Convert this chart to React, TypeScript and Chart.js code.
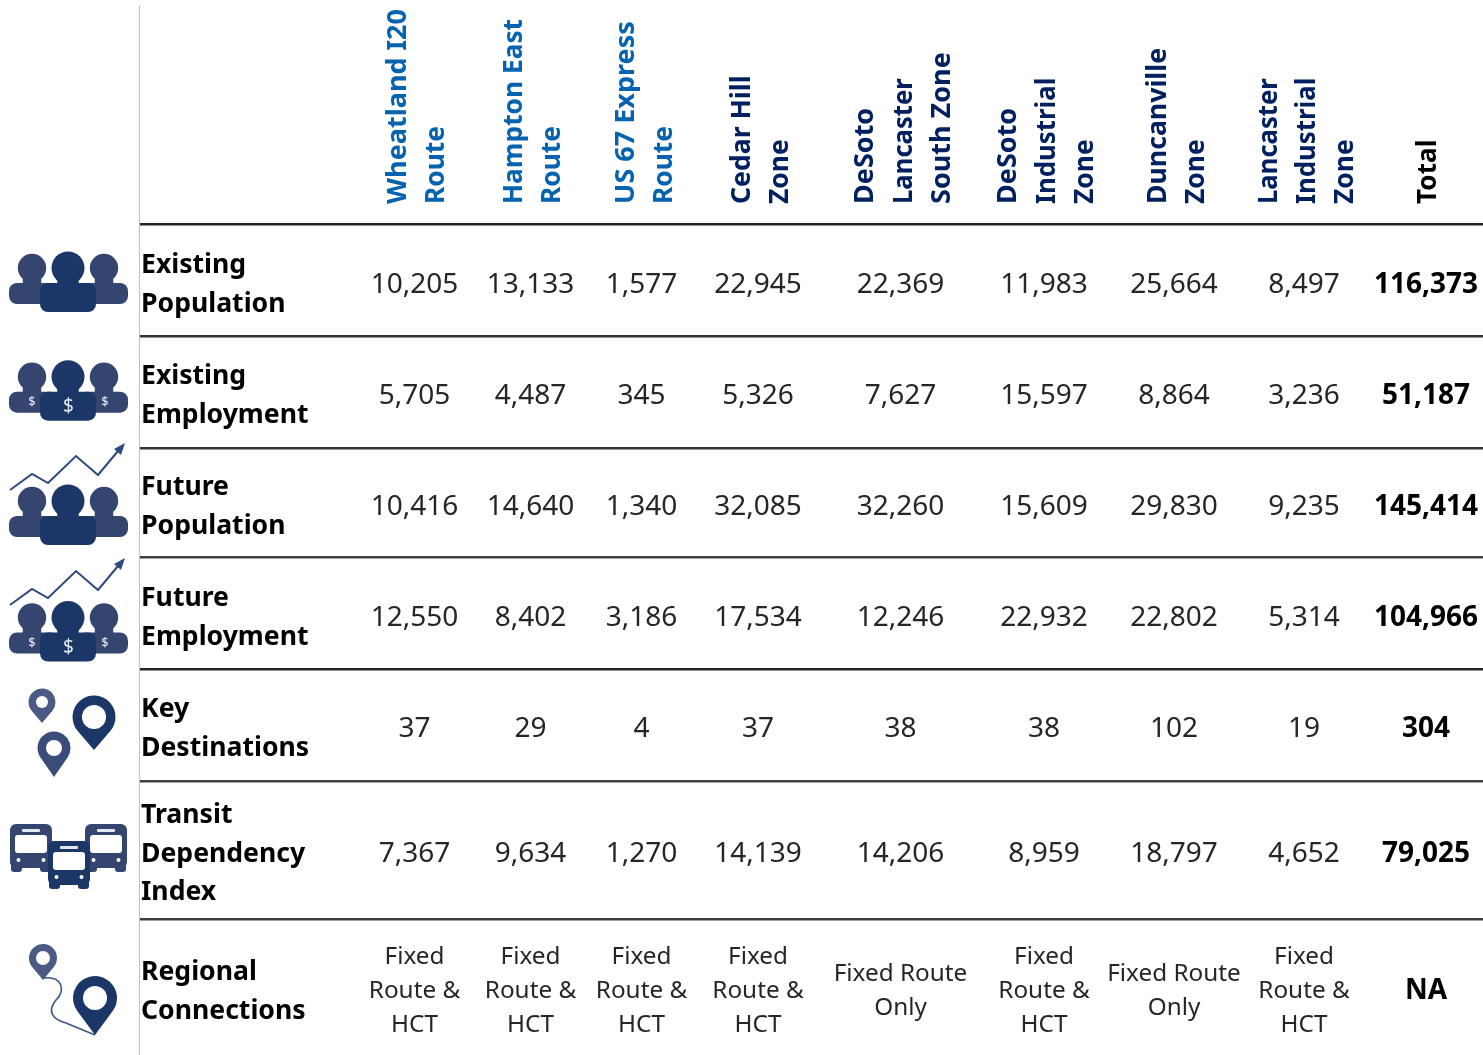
import React, { useEffect, useRef } from "react";
import { Chart, registerables } from "chart.js";

Chart.register(...registerables);

// ---- table content ----
const headerLines: string[][] = [
  ["Wheatland I20", "Route"],
  ["Hampton East", "Route"],
  ["US 67 Express", "Route"],
  ["Cedar Hill", "Zone"],
  ["DeSoto", "Lancaster", "South Zone"],
  ["DeSoto", "Industrial", "Zone"],
  ["Duncanville", "Zone"],
  ["Lancaster", "Industrial", "Zone"],
  ["Total"],
];
const headerColors = ["#0563b0", "#0563b0", "#0563b0", "#002060", "#002060", "#002060", "#002060", "#002060", "#000000"];

const rowLabels: string[][] = [
  ["Existing", "Population"],
  ["Existing", "Employment"],
  ["Future", "Population"],
  ["Future", "Employment"],
  ["Key", "Destinations"],
  ["Transit", "Dependency", "Index"],
  ["Regional", "Connections"],
];

const existingPopulation = [10205, 13133, 1577, 22945, 22369, 11983, 25664, 8497, 116373];
const existingEmployment = [5705, 4487, 345, 5326, 7627, 15597, 8864, 3236, 51187];
const futurePopulation = [10416, 14640, 1340, 32085, 32260, 15609, 29830, 9235, 145414];
const futureEmployment = [12550, 8402, 3186, 17534, 12246, 22932, 22802, 5314, 104966];
const keyDestinations = [37, 29, 4, 37, 38, 38, 102, 19, 304];
const transitDependency = [7367, 9634, 1270, 14139, 14206, 8959, 18797, 4652, 79025];
const numericRows = [existingPopulation, existingEmployment, futurePopulation, futureEmployment, keyDestinations, transitDependency];

const regionalConnections: string[][] = [
  ["Fixed", "Route &", "HCT"],
  ["Fixed", "Route &", "HCT"],
  ["Fixed", "Route &", "HCT"],
  ["Fixed", "Route &", "HCT"],
  ["Fixed Route", "Only"],
  ["Fixed", "Route &", "HCT"],
  ["Fixed Route", "Only"],
  ["Fixed", "Route &", "HCT"],
  ["NA"],
];

// ---- table layout (scale units) ----
const columnCentres = [414.5, 530.5, 641.5, 758, 900.5, 1044, 1174, 1304, 1426];
const rowCentres = [285, 396, 507, 618, 729, 854, 992];
const connectionCentre = 991;
const labelColumn = 141;
const labelPitch = 38.4;
const connectionPitch = 34;
const headerBaseline = 204;
const headerBaselines = [
  [405.5, 444], [521.5, 560], [633.5, 672], [749.5, 788],
  [872.5, 911.5, 949.5], [1015.5, 1054.5, 1093], [1165.5, 1204], [1276.5, 1315, 1353], [1436],
];
const headerStretch: Record<string, number> = {
  "Hampton East": 0.974, "Cedar Hill": 0.985, Lancaster: 0.95, Industrial: 0.955,
  Duncanville: 0.987, Total: 0.97, Route: 0.975, Zone: 0.98,
};
const ruleLines = [224, 336, 448, 557, 669, 781, 919];
const ruleColors = ["#262626", "#333333", "#333333", "#404040", "#262626", "#404040", "#404040"];

const FONT = '"Noto Sans"';
const DARK = "#1b3768";
const MID = "#344570";
const LIGHT = "#4a5a85";

type Cell = { x: number; y: number; text: string; font: string; color: string; align: CanvasTextAlign; rotate?: boolean; stretch?: number };

const cellsHeader: Cell[] = headerLines.flatMap((lines, c) =>
  lines.map((text, i) => ({
    x: headerBaselines[c][i], y: headerBaseline, text,
    font: `bold 27px ${FONT}`, color: headerColors[c], align: "left" as CanvasTextAlign, rotate: true,
    stretch: headerStretch[text] ?? 1,
  }))
);
const cellsLabels: Cell[] = rowLabels.flatMap((lines, r) =>
  lines.map((text, i) => ({
    x: labelColumn, y: rowCentres[r] + (i - (lines.length - 1) / 2) * labelPitch, text,
    font: `bold 27px ${FONT}`, color: "#000000", align: "left" as CanvasTextAlign, stretch: 0.985,
  }))
);
const cellsValues: Cell[] = numericRows.flatMap((row, r) =>
  row.map((v, c) => ({
    x: columnCentres[c], y: rowCentres[r], text: v.toLocaleString("en-US"),
    font: `${c === 8 ? "bold " : ""}28px ${FONT}`, color: c === 8 ? "#000000" : "#262626", align: "center" as CanvasTextAlign,
  }))
);
const cellsConnections: Cell[] = regionalConnections.flatMap((lines, c) =>
  lines.map((text, i) => ({
    x: columnCentres[c], y: connectionCentre + (i - (lines.length - 1) / 2) * connectionPitch, text,
    font: c === 8 ? `bold 28px ${FONT}` : `24.3px ${FONT}`, color: c === 8 ? "#000000" : "#262626", align: "center" as CanvasTextAlign,
  }))
);

function rr(ctx: CanvasRenderingContext2D, x: number, y: number, w: number, h: number, r: number, color: string) {
  ctx.fillStyle = color;
  ctx.beginPath();
  ctx.roundRect(x, y, w, h, r);
  ctx.fill();
}
function person(ctx: CanvasRenderingContext2D, cx: number, headY: number, headR: number, x: number, y: number, w: number, h: number, color: string) {
  ctx.fillStyle = color;
  ctx.beginPath();
  ctx.arc(cx, headY, headR, 0, Math.PI * 2);
  ctx.fill();
  ctx.beginPath();
  ctx.roundRect(cx - headR * 0.65, headY, headR * 1.3, y - headY + 6, 2);
  ctx.fill();
  rr(ctx, x, y, w, h, 8, color);
}
function people(ctx: CanvasRenderingContext2D, dy: number, dollars: boolean) {
  person(ctx, 32, 268 + dy, 14.2, 9, 283 + dy, 50, 21, MID);
  person(ctx, 104, 268 + dy, 14.2, 78, 283 + dy, 50, 21, MID);
  person(ctx, 68, 268 + dy, 16.5, 40, 283 + dy, 56, 29, DARK);
  if (dollars) {
    ctx.fillStyle = "#e8ebf2";
    ctx.textAlign = "center";
    ctx.textBaseline = "middle";
    ctx.font = `13px ${FONT}`;
    ctx.fillText("$", 32, 294 + dy);
    ctx.fillText("$", 105, 294 + dy);
    ctx.font = `19px ${FONT}`;
    ctx.fillText("$", 68.5, 298 + dy);
  }
}
function arrowLine(ctx: CanvasRenderingContext2D, dy: number) {
  const pts = [[10, 490], [32, 474], [48, 483], [76, 456], [98, 475], [118, 451]];
  ctx.strokeStyle = "#2f4a7c";
  ctx.lineWidth = 2;
  ctx.beginPath();
  pts.forEach(([x, y], i) => (i ? ctx.lineTo(x, y + dy) : ctx.moveTo(x, y + dy)));
  ctx.stroke();
  ctx.fillStyle = "#2f4a7c";
  ctx.beginPath();
  ctx.moveTo(125, 443 + dy);
  ctx.lineTo(121, 455 + dy);
  ctx.lineTo(114, 449 + dy);
  ctx.closePath();
  ctx.fill();
}
function pin(ctx: CanvasRenderingContext2D, cx: number, cy: number, r: number, tipY: number, hole: number, color: string) {
  const d = tipY - cy;
  const a = Math.acos(r / d);
  ctx.fillStyle = color;
  ctx.beginPath();
  ctx.arc(cx, cy, r, Math.PI / 2 + a, Math.PI / 2 - a);
  ctx.lineTo(cx, tipY);
  ctx.closePath();
  ctx.fill();
  ctx.fillStyle = "#ffffff";
  ctx.beginPath();
  ctx.arc(cx, cy, hole, 0, Math.PI * 2);
  ctx.fill();
}
function bus(ctx: CanvasRenderingContext2D, x: number, y: number, color: string) {
  rr(ctx, x, y, 42, 44, 6, color);
  rr(ctx, x + 1, y + 38, 11, 10, 3, color);
  rr(ctx, x + 30, y + 38, 11, 10, 3, color);
  ctx.fillStyle = "#ffffff";
  ctx.fillRect(x + 12, y + 44, 18, 4);
  rr(ctx, x + 12, y + 5, 18, 3, 1, "#e4e7ef");
  rr(ctx, x + 5, y + 11, 32, 18, 3, "#ffffff");
  ctx.fillStyle = "#ffffff";
  ctx.beginPath();
  ctx.arc(x + 8.5, y + 36, 2, 0, Math.PI * 2);
  ctx.arc(x + 33.5, y + 36, 2, 0, Math.PI * 2);
  ctx.fill();
}

const tablePlugin = {
  id: "tableCells",
  afterDatasetsDraw(chart: any) {
    const ctx: CanvasRenderingContext2D = chart.ctx;
    ctx.save();
    chart.data.datasets.forEach((ds: any, di: number) => {
      const meta = chart.getDatasetMeta(di);
      meta.data.forEach((el: any, i: number) => {
        const cell: Cell = ds.data[i];
        ctx.save();
        ctx.font = cell.font;
        ctx.fillStyle = cell.color;
        ctx.textAlign = cell.align;
        ctx.textBaseline = cell.rotate ? "alphabetic" : "middle";
        ctx.translate(el.x, el.y);
        if (cell.rotate) ctx.rotate(-Math.PI / 2);
        ctx.scale(cell.stretch ?? 1, 1);
        ctx.fillText(cell.text, 0, 0);
        ctx.restore();
      });
    });
    // row icons in the left margin
    people(ctx, 0, false);
    people(ctx, 108.7, true);
    arrowLine(ctx, 0);
    people(ctx, 233, false);
    arrowLine(ctx, 115);
    people(ctx, 349.5, true);
    pin(ctx, 42, 702, 13.5, 723, 6, LIGHT);
    pin(ctx, 94, 717, 21.5, 750, 12, DARK);
    pin(ctx, 54, 748, 16.5, 777, 8, "#3a4c7a");
    bus(ctx, 10, 824, MID);
    bus(ctx, 85, 824, MID);
    bus(ctx, 48, 841, DARK);
    pin(ctx, 43, 958, 14, 980, 7, LIGHT);
    ctx.strokeStyle = "#3a5487";
    ctx.lineWidth = 1.6;
    ctx.beginPath();
    ctx.moveTo(44, 978);
    ctx.bezierCurveTo(62, 976, 66, 990, 56, 1000);
    ctx.bezierCurveTo(46, 1012, 54, 1020, 66, 1023);
    ctx.lineTo(95, 1035);
    ctx.stroke();
    pin(ctx, 95, 998, 22, 1035, 12, DARK);
    ctx.restore();
  },
};

export default function App() {
  const ref = useRef<HTMLCanvasElement>(null);
  useEffect(() => {
    const chart = new Chart(ref.current!, {
      type: "scatter",
      data: {
        datasets: [
          { label: "Headers", data: cellsHeader as any, pointRadius: 0 },
          { label: "Row labels", data: cellsLabels as any, pointRadius: 0 },
          { label: "Values", data: cellsValues as any, pointRadius: 0 },
          { label: "Regional Connections", data: cellsConnections as any, pointRadius: 0 },
        ],
      },
      options: {
        responsive: false,
        animation: false,
        events: [],
        layout: { padding: { left: 139, top: 5, right: 0, bottom: 0 } },
        plugins: { legend: { display: false }, tooltip: { enabled: false } },
        scales: {
          x: { type: "linear", min: 139, max: 1483, display: false },
          y: {
            type: "linear",
            reverse: true,
            min: 5,
            max: 1055,
            afterBuildTicks: (axis: any) => {
              axis.ticks = ruleLines.map((value) => ({ value }));
            },
            afterFit: (axis: any) => {
              axis.width = 0;
            },
            ticks: { display: false },
            border: { display: true, color: "#bfbfbf", width: 1 },
            grid: {
              drawTicks: false,
              lineWidth: 2.5,
              color: (c: any) => ruleColors[ruleLines.indexOf(c.tick?.value)] ?? "#333333",
            },
          },
        },
      },
      plugins: [tablePlugin],
    });
    return () => chart.destroy();
  }, []);
  return (
    <canvas
      ref={ref}
      width={1483}
      height={1055}
      style={{ position: "absolute", left: 0, top: 0, display: "block", background: "#ffffff" }}
    />
  );
}
